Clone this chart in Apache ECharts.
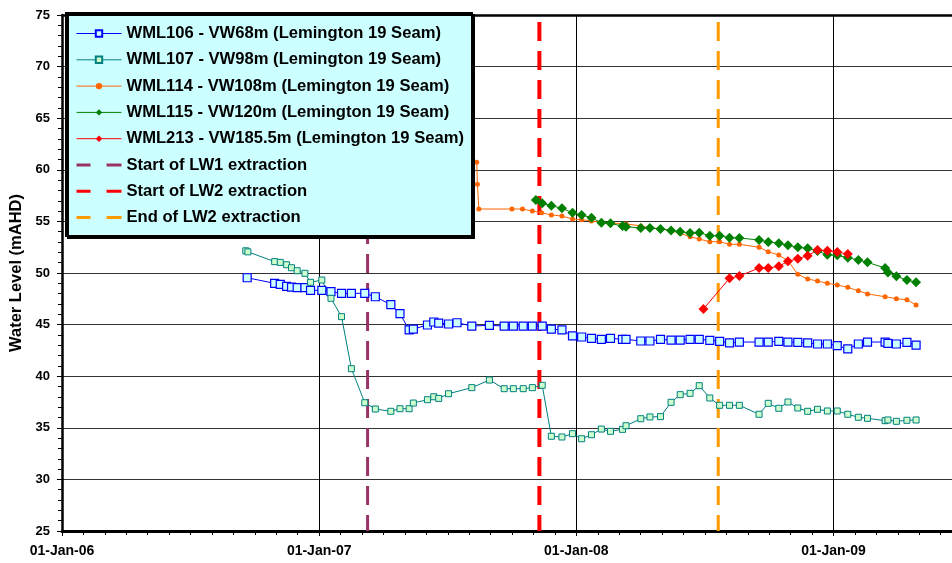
<!DOCTYPE html>
<html>
<head>
<meta charset="utf-8">
<script src="https://cdn.jsdelivr.net/npm/echarts@6/dist/echarts.min.js"></script>
<style>
html,body{margin:0;padding:0;background:#fff;}
#chart{width:952px;height:563px;}
</style>
</head>
<body>
<div id="chart"></div>
<script>
// ---- DATA ----
const seriesNames = [
  'WML106 - VW68m (Lemington 19 Seam)',
  'WML107 - VW98m (Lemington 19 Seam)',
  'WML114 - VW108m (Lemington 19 Seam)',
  'WML115 - VW120m (Lemington 19 Seam)',
  'WML213 - VW185.5m (Lemington 19 Seam)'
];
const eventNames = ['Start of LW1 extraction', 'Start of LW2 extraction', 'End of LW2 extraction'];
const eventDates = ['2007-03-11', '2007-11-10', '2008-07-21'];

const wml106Dates = ['2006-09-21','2006-10-30','2006-11-07','2006-11-16','2006-11-23','2006-12-01','2006-12-12','2006-12-20','2007-01-05','2007-01-18','2007-02-02','2007-02-16','2007-03-07','2007-03-22','2007-04-13','2007-04-26','2007-05-09','2007-05-15','2007-06-04','2007-06-13','2007-06-20','2007-07-04','2007-07-16','2007-08-06','2007-08-31','2007-09-21','2007-10-04','2007-10-18','2007-10-31','2007-11-14','2007-11-27','2007-12-12','2007-12-27','2008-01-09','2008-01-23','2008-02-06','2008-02-19','2008-03-07','2008-03-12','2008-04-02','2008-04-15','2008-04-30','2008-05-15','2008-05-28','2008-06-11','2008-06-24','2008-07-09','2008-07-23','2008-08-06','2008-08-20','2008-09-17','2008-09-30','2008-10-15','2008-10-28','2008-11-11','2008-11-25','2008-12-09','2008-12-23','2009-01-06','2009-01-21','2009-02-05','2009-02-18','2009-03-15','2009-03-19','2009-03-31','2009-04-15','2009-04-28'];
const wml106Values = [49.54,49.0,48.9,48.7,48.64,48.58,48.58,48.32,48.32,48.19,48.03,48.03,48.03,47.7,46.93,46.06,44.48,44.57,44.96,45.25,45.15,45.06,45.18,44.86,44.93,44.86,44.86,44.86,44.86,44.86,44.57,44.48,43.9,43.8,43.67,43.57,43.67,43.57,43.57,43.41,43.41,43.57,43.5,43.5,43.57,43.57,43.48,43.38,43.22,43.31,43.31,43.31,43.38,43.31,43.28,43.22,43.12,43.12,42.96,42.64,43.12,43.31,43.31,43.19,43.12,43.28,43.02];

const wml107Dates = ['2006-09-19','2006-09-22','2006-10-30','2006-11-07','2006-11-16','2006-11-23','2006-12-01','2006-12-12','2006-12-20','2007-01-05','2007-01-18','2007-02-02','2007-02-16','2007-03-07','2007-03-22','2007-04-13','2007-04-26','2007-05-09','2007-05-15','2007-06-04','2007-06-13','2007-06-20','2007-07-04','2007-08-06','2007-08-31','2007-09-21','2007-10-04','2007-10-18','2007-10-31','2007-11-14','2007-11-27','2007-12-12','2007-12-27','2008-01-09','2008-01-23','2008-02-06','2008-02-19','2008-03-07','2008-03-12','2008-04-02','2008-04-15','2008-04-30','2008-05-15','2008-05-28','2008-06-11','2008-06-24','2008-07-09','2008-07-23','2008-08-06','2008-08-20','2008-09-17','2008-09-30','2008-10-15','2008-10-28','2008-11-11','2008-11-25','2008-12-09','2008-12-23','2009-01-06','2009-01-21','2009-02-05','2009-02-18','2009-03-15','2009-03-19','2009-03-31','2009-04-15','2009-04-28'];
const wml107Values = [52.15,52.05,51.1,51.03,50.8,50.51,50.22,49.97,49.1,49.32,47.55,45.77,40.73,37.43,36.82,36.6,36.85,36.85,37.4,37.72,38.01,37.85,38.3,38.89,39.63,38.79,38.79,38.79,38.89,39.12,34.18,34.11,34.43,33.94,34.33,34.88,34.66,34.85,35.2,35.88,36.05,36.08,37.47,38.21,38.34,39.08,37.89,37.18,37.18,37.18,36.31,37.37,36.89,37.5,36.92,36.6,36.79,36.63,36.63,36.31,36.02,35.92,35.69,35.76,35.63,35.73,35.76];

const wml114Dates = ['2007-08-13','2007-08-14','2007-08-16','2007-10-02','2007-10-17','2007-10-31','2007-11-13','2007-11-27','2007-12-12','2007-12-27','2008-01-09','2008-01-23','2008-02-06','2008-02-19','2008-03-12','2008-04-02','2008-04-15','2008-04-30','2008-05-15','2008-05-28','2008-06-11','2008-06-24','2008-07-09','2008-07-23','2008-08-06','2008-08-20','2008-09-17','2008-09-30','2008-10-15','2008-10-28','2008-11-11','2008-11-25','2008-12-09','2008-12-23','2009-01-06','2009-01-21','2009-02-05','2009-02-18','2009-03-15','2009-03-31','2009-04-15','2009-04-28'];
const wml114Values = [60.73,58.6,56.2,56.2,56.2,56.0,55.84,55.62,55.52,55.23,55.16,55.05,54.92,54.85,54.76,54.56,54.39,54.29,54.1,53.84,53.52,53.29,53.03,53.03,52.78,52.78,52.49,52.06,51.74,51.19,49.87,49.42,49.22,49.0,48.84,48.61,48.28,47.97,47.7,47.51,47.41,46.9];

const wml115Dates = ['2007-11-05','2007-11-14','2007-11-27','2007-12-12','2007-12-27','2008-01-09','2008-01-23','2008-02-06','2008-02-19','2008-03-07','2008-03-12','2008-04-02','2008-04-15','2008-04-30','2008-05-15','2008-05-28','2008-06-11','2008-06-24','2008-07-09','2008-07-23','2008-08-06','2008-08-20','2008-09-17','2008-09-30','2008-10-15','2008-10-28','2008-11-11','2008-11-25','2008-12-09','2008-12-23','2009-01-06','2009-01-21','2009-02-05','2009-02-18','2009-03-15','2009-03-19','2009-03-31','2009-04-15','2009-04-28'];
const wml115Values = [57.07,56.75,56.52,56.27,55.84,55.62,55.36,54.87,54.81,54.55,54.49,54.36,54.36,54.26,54.13,54.0,53.88,53.91,53.61,53.61,53.42,53.39,53.2,53.0,52.88,52.68,52.49,52.39,52.13,51.77,51.71,51.48,51.26,51.03,50.48,50.06,49.68,49.32,49.1];

const wml213Dates = ['2008-06-30','2008-08-06','2008-08-20','2008-09-17','2008-09-30','2008-10-15','2008-10-28','2008-11-11','2008-11-25','2008-12-09','2008-12-23','2009-01-06','2009-01-21'];
const wml213Values = [46.51,49.49,49.71,50.48,50.48,50.65,51.13,51.39,51.68,52.23,52.16,52.03,51.84];

// axis settings
const xStart = '2006-01-01';
const xEnd = '2009-06-18';
const yMin = 25, yMax = 75, yStep = 5;
const yAxisTitle = 'Water Level (mAHD)';
const monthNames = ['Jan','Feb','Mar','Apr','May','Jun','Jul','Aug','Sep','Oct','Nov','Dec'];

// ---- BUILD ----
const HOUR = 3600000;
const DAY = 86400000;
const YEAR = 365.25 * DAY;
const t = s => Date.parse(s);
const pairs = (ds, vs) => ds.map((d, i) => [t(d), vs[i]]);

function fmtDate(v) {
  // ticks are multiples of 365.25 days, so they sit within +/-12h of 1 January
  const d = new Date(Math.floor((v + 7 * HOUR) / DAY) * DAY);
  const dd = String(d.getUTCDate()).padStart(2, '0');
  const yy = String(d.getUTCFullYear() % 100).padStart(2, '0');
  return dd + '-' + monthNames[d.getUTCMonth()] + '-' + yy;
}

const colors = ['#0000FF', '#008080', '#FF6600', '#008000', '#FF0000'];
const evColors = ['#993366', '#FF0000', '#FF9900'];
const evWidths = [3, 4, 3];

const dataSets = [
  pairs(wml106Dates, wml106Values),
  pairs(wml107Dates, wml107Values),
  pairs(wml114Dates, wml114Values),
  pairs(wml115Dates, wml115Values),
  pairs(wml213Dates, wml213Values)
];
const symbols = ['rect', 'rect', 'circle', 'diamond', 'diamond'];
const symSizes = [8, 6, 5, 10, 10];
const symFill = ['#CCFFFF', '#CCFFCC', '#FF6600', '#008000', '#FF0000'];
const symBorderW = [1.2, 1, 0, 0, 0];

const series = [];
eventDates.forEach((d, i) => {
  series.push({
    name: eventNames[i], type: 'line', symbol: 'none', z: 1,
    data: [[t(d), yMax], [t(d), yMin]],
    lineStyle: { color: evColors[i], width: evWidths[i], type: [19, 10], dashOffset: 22 },
    itemStyle: { color: evColors[i] },
    silent: true, animation: false
  });
});
dataSets.forEach((ds, i) => {
  series.push({
    name: seriesNames[i], type: 'line', data: ds, z: 3,
    symbol: symbols[i], symbolSize: symSizes[i], showAllSymbol: true,
    lineStyle: { color: colors[i], width: 1 },
    itemStyle: { color: symFill[i], borderColor: colors[i], borderWidth: symBorderW[i] },
    emphasis: { disabled: true }, animation: false
  });
});

const dashIcon = 'path://M0,0h14v3h-14z M30,0h15v3h-15z';
const legendData = seriesNames.map(n => ({ name: n }))
  .concat(eventNames.map((n, i) => ({ name: n, icon: dashIcon, itemStyle: { color: evColors[i] } })));

const chart = echarts.init(document.getElementById('chart'), null, { renderer: 'canvas' });
chart.setOption({
  animation: false,
  backgroundColor: '#ffffff',
  textStyle: { fontFamily: 'Liberation Sans, Arial, sans-serif' },
  grid: { left: 62, right: 0, top: 15, bottom: 32, containLabel: false, outerBoundsMode: 'none' },
  xAxis: [{
    type: 'value', min: t(xStart), max: t(xEnd), interval: YEAR,
    axisLine: { show: true, onZero: false, lineStyle: { color: '#000', width: 3 } },
    axisTick: { show: true, length: 5, lineStyle: { color: '#000', width: 1 } },
    minorTick: { show: true, splitNumber: 12, length: 4, lineStyle: { color: '#000', width: 1 } },
    axisLabel: { formatter: fmtDate, showMaxLabel: false, showMinLabel: true, margin: 13,
      fontSize: 14, fontWeight: 'bold', color: '#000', fontFamily: 'Liberation Sans Narrow, Liberation Sans, Arial' },
    splitLine: { show: true, lineStyle: { color: '#000', width: 1 } }
  }, {
    type: 'value', position: 'top', min: t(xStart), max: t(xEnd), interval: YEAR,
    axisLine: { show: true, onZero: false, lineStyle: { color: '#000', width: 2.5 } },
    axisTick: { show: false }, axisLabel: { show: false }, splitLine: { show: false }
  }],
  yAxis: {
    type: 'value', min: yMin, max: yMax, interval: yStep,
    name: yAxisTitle, nameLocation: 'middle', nameGap: 37,
    nameTextStyle: { fontSize: 16.5, fontWeight: 'bold', color: '#000' },
    axisLine: { show: true, onZero: false, lineStyle: { color: '#000', width: 2.5 } },
    axisTick: { show: true, length: 5, lineStyle: { color: '#000', width: 1 } },
    minorTick: { show: true, splitNumber: 5, length: 4, lineStyle: { color: '#000', width: 1 } },
    axisLabel: { margin: 12, fontSize: 13, fontWeight: 'bold', color: '#000' },
    splitLine: { show: true, lineStyle: { color: '#333', width: 1 } }
  },
  legend: {
    data: legendData, orient: 'vertical', left: 66, top: 13,
    backgroundColor: '#CCFFFF', borderColor: '#000', borderWidth: 2,
    shadowColor: '#000', shadowOffsetX: 2, shadowOffsetY: 2, shadowBlur: 0,
    padding: [12, 8, 10, 10], itemWidth: 45, itemHeight: 8, itemGap: 9.3,
    selectedMode: false,
    lineStyle: { width: 1 },
    textStyle: { fontSize: 16.6, fontWeight: 'bold', color: '#000', lineHeight: 16.3, fontFamily: 'Liberation Sans, Arial' }
  },
  series: series
});
</script>
</body>
</html>
